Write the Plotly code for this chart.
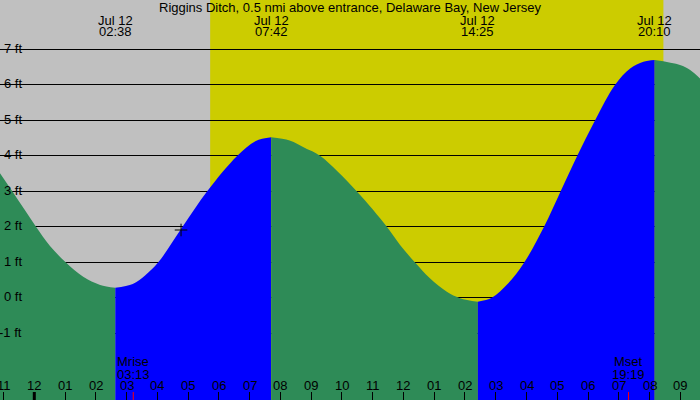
import plotly.graph_objects as go

# ---------------- data ----------------
title = "Riggins Ditch, 0.5 nmi above entrance, Delaware Bay, New Jersey"

# tide height readings: hours since midnight Jul 12 -> feet
tide_hours = [-1.115, -0.715, -0.33, 0.055, 0.51, 1.02, 1.59, 2.14, 2.633,
              3.2, 3.6, 4.03, 4.82, 5.62, 6.60, 7.2, 7.70,
              8.3, 8.8, 9.29, 10.48, 11.46, 11.89, 12.37, 12.86, 13.41, 13.84, 14.417,
              14.87, 15.4, 15.93, 16.57, 17.11, 17.65, 18.23, 18.88, 19.37, 19.80, 20.167,
              20.99, 21.32, 21.64]
tide_feet = [3.51, 3.0, 2.5, 2.0, 1.46, 1.0, 0.59, 0.36, 0.28,
             0.39, 0.63, 1.0, 2.0, 3.0, 4.0, 4.42, 4.52,
             4.43, 4.22, 4.0, 3.0, 2.0, 1.49, 1.0, 0.55, 0.17, -0.01, -0.11,
             0.0, 0.4, 1.0, 2.0, 3.0, 4.0, 5.0, 6.0, 6.46, 6.65, 6.70,
             6.56, 6.42, 6.18]

extreme_dates = ["Jul 12", "Jul 12", "Jul 12", "Jul 12"]
extreme_times = ["02:38", "07:42", "14:25", "20:10"]

sunrise = "05:43"
sunset = "20:27"
moonrise = "03:13"
moonset = "19:19"

marker_hour = [4.77]
marker_feet = [1.91]

hour_ticks = list(range(-1, 22))
hour_labels = ["11", "12", "01", "02", "03", "04", "05", "06", "07", "08", "09", "10",
               "11", "12", "01", "02", "03", "04", "05", "06", "07", "08", "09"]
feet_ticks = [-1, 0, 1, 2, 3, 4, 5, 6, 7]
feet_labels = ["-1 ft", "0 ft", "1 ft", "2 ft", "3 ft", "4 ft", "5 ft", "6 ft", "7 ft"]

# ---------------- styling ----------------
W, H = 700, 400
X_RANGE = [-1.115, 21.64]
Y_RANGE = [-2.879, 8.389]
NIGHT = "#C0C0C0"
DAY = "#CCCC00"
FALL = "#2E8B57"
RISE = "#0000FF"
FONT = "Liberation Sans, Arial, sans-serif"


def hm(s):
    h, m = s.split(":")
    return int(h) + int(m) / 60.0


def py(px):  # pixel from top -> paper y
    return (H - px) / H


fig = go.Figure()

# split tide readings into rising / falling segments at the extremes
ext_h = [hm(t) for t in extreme_times]
cuts = [0] + [min(range(len(tide_hours)), key=lambda i: abs(tide_hours[i] - e)) for e in ext_h] + [len(tide_hours) - 1]
for a, b in zip(cuts[:-1], cuts[1:]):
    xs = tide_hours[a:b + 1]
    ys = tide_feet[a:b + 1]
    color = RISE if ys[-1] > ys[0] else FALL
    fig.add_trace(go.Scatter(x=[xs[0], xs[-1]], y=[-4, -4], mode="lines",
                             line=dict(width=0), hoverinfo="skip", showlegend=False))
    fig.add_trace(go.Scatter(x=xs, y=ys, mode="lines", line=dict(width=0, color=color, shape="spline"),
                             fill="tonexty", fillcolor=color, hoverinfo="skip", showlegend=False))

fig.add_trace(go.Scatter(x=marker_hour, y=marker_feet, mode="markers",
                         marker=dict(symbol="cross-thin", size=9, line=dict(width=1, color="black")),
                         hoverinfo="skip", showlegend=False))

shapes = [
    dict(type="rect", xref="x", yref="paper", x0=hm(sunrise), x1=hm(sunset), y0=0, y1=1,
         fillcolor=DAY, line=dict(width=0), layer="below"),
    dict(type="rect", xref="paper", yref="paper", x0=0, x1=26 / W, y0=0, y1=1,
         fillcolor=NIGHT, line=dict(width=0), layer="between"),
    dict(type="line", xref="x", yref="paper", x0=0, x1=0, y0=0, y1=8 / H,
         line=dict(width=3, color="black"), layer="above"),
    dict(type="line", xref="x", yref="paper", x0=hm(moonrise), x1=hm(moonrise), y0=0, y1=8 / H,
         line=dict(width=1, color="red"), layer="above"),
    dict(type="line", xref="x", yref="paper", x0=hm(moonset), x1=hm(moonset), y0=0, y1=8 / H,
         line=dict(width=1, color="red"), layer="above"),
]

ann = []
ann.append(dict(text=title, xref="paper", yref="paper", x=0.5, y=py(7.8), xanchor="center",
                yanchor="middle", showarrow=False))
for d, t in zip(extreme_dates, extreme_times):
    ann.append(dict(text=d, xref="x", yref="paper", x=hm(t), y=py(20), xanchor="center",
                    yanchor="middle", showarrow=False))
    ann.append(dict(text=t, xref="x", yref="paper", x=hm(t), y=py(31.5), xanchor="center",
                    yanchor="middle", showarrow=False))
for name, t in [("Mrise", moonrise), ("Mset", moonset)]:
    ann.append(dict(text=name, xref="x", yref="paper", x=hm(t), y=py(361.5), xanchor="center",
                    yanchor="middle", showarrow=False))
    ann.append(dict(text=t, xref="x", yref="paper", x=hm(t), y=py(374), xanchor="center",
                    yanchor="middle", showarrow=False))
for h, lab in zip(hour_ticks, hour_labels):
    ann.append(dict(text=lab, xref="x", yref="paper", x=h, y=py(385.5), xanchor="center",
                    yanchor="middle", showarrow=False))
for v, lab in zip(feet_ticks, feet_labels):
    ann.append(dict(text=lab, xref="paper", yref="y", x=24 / W, y=v + 0.03, xanchor="right",
                    yanchor="middle", showarrow=False))

fig.update_layout(
    width=W, height=H, margin=dict(l=0, r=0, t=0, b=0, pad=0),
    paper_bgcolor=NIGHT, plot_bgcolor=NIGHT, showlegend=False,
    font=dict(family=FONT, size=13, color="black"),
    shapes=shapes, annotations=ann,
    xaxis=dict(range=X_RANGE, showgrid=False, zeroline=False, showline=False,
               showticklabels=False, ticks="inside", ticklen=8, tickwidth=1, tickcolor="black",
               tickmode="array", tickvals=hour_ticks, fixedrange=True),
    yaxis=dict(range=Y_RANGE, showgrid=True, gridcolor="black", gridwidth=1, zeroline=False,
               showline=False, showticklabels=False, ticks="", tickmode="array",
               tickvals=feet_ticks, fixedrange=True),
)

fig.write_html("out.html")
